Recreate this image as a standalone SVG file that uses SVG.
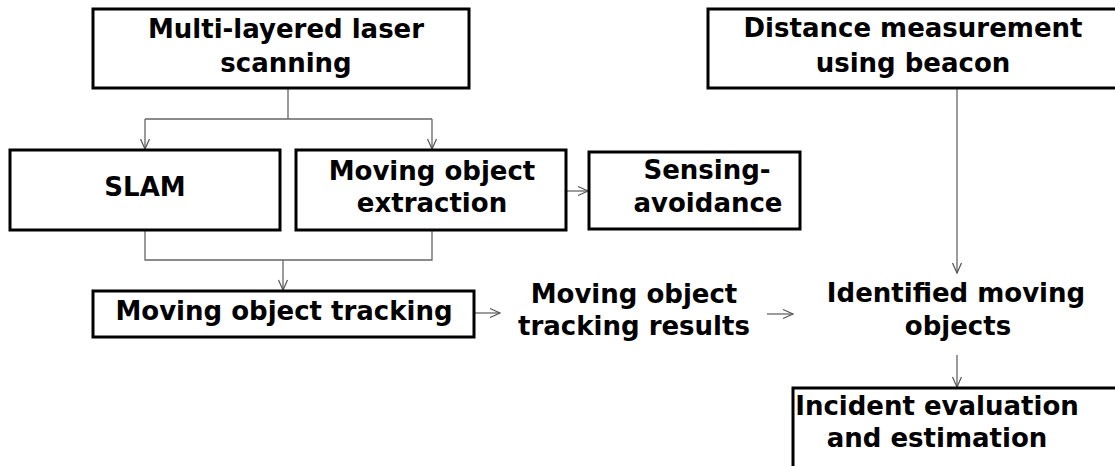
<svg xmlns="http://www.w3.org/2000/svg" width="1115" height="466" viewBox="0 0 1115 466">
<style>
.box{fill:#fff;stroke:#000;stroke-width:3}
.t{font-family:"DejaVu Sans","Liberation Sans",sans-serif;font-weight:bold;font-size:26px;fill:#000;text-anchor:middle}
.c{fill:none;stroke:#666;stroke-width:1.3}
</style>
<defs>
<marker id="ah" markerUnits="userSpaceOnUse" markerWidth="12" markerHeight="12" refX="10" refY="5" orient="auto" overflow="visible">
<path d="M0,0.5 L10,5 L0,9.5" fill="none" stroke="#555" stroke-width="1.2"/>
</marker>
</defs>
<rect width="1115" height="466" fill="#fff"/>
<g id="connectors">
<path class="c" d="M288,88 V119 M145,119 H432"/>
<path class="c" d="M145,119 V149" marker-end="url(#ah)"/>
<path class="c" d="M432,119 V149" marker-end="url(#ah)"/>
<path class="c" d="M566,191 H588" marker-end="url(#ah)"/>
<path class="c" d="M145,230 V260 H432 V230"/>
<path class="c" d="M283,260 V290" marker-end="url(#ah)"/>
<path class="c" d="M474,313 H500" marker-end="url(#ah)"/>
<path class="c" d="M767,314 H793" marker-end="url(#ah)"/>
<path class="c" d="M957,88 V273" marker-end="url(#ah)"/>
<path class="c" d="M957,355 V387" marker-end="url(#ah)"/>
</g>
<g id="laser">
<rect class="box" x="93" y="9" width="376" height="79"/>
<text class="t" x="286" y="38">Multi-layered laser</text>
<text class="t" x="286" y="72">scanning</text>
</g>
<g id="beacon">
<rect class="box" x="708" y="9" width="500" height="79"/>
<text class="t" x="913" y="37">Distance measurement</text>
<text class="t" x="913" y="72">using beacon</text>
</g>
<g id="slam">
<rect class="box" x="10" y="150" width="270" height="80"/>
<text class="t" x="145" y="196">SLAM</text>
</g>
<g id="extraction">
<rect class="box" x="296" y="150" width="270" height="80"/>
<text class="t" x="432" y="180">Moving object</text>
<text class="t" x="432" y="212">extraction</text>
</g>
<g id="sensing">
<rect class="box" x="589" y="152" width="211" height="77"/>
<text class="t" x="707" y="179">Sensing-</text>
<text class="t" x="708" y="212">avoidance</text>
</g>
<g id="tracking">
<rect class="box" x="93" y="291" width="381" height="46"/>
<text class="t" x="284" y="320">Moving object tracking</text>
</g>
<g id="results">
<text class="t" x="634" y="303">Moving object</text>
<text class="t" x="634" y="335">tracking results</text>
</g>
<g id="identified">
<text class="t" x="956" y="302">Identified moving</text>
<text class="t" x="958" y="335">objects</text>
</g>
<g id="incident">
<rect class="box" x="793" y="388" width="400" height="200"/>
<text class="t" x="937" y="415">Incident evaluation</text>
<text class="t" x="937" y="447">and estimation</text>
</g>
</svg>
